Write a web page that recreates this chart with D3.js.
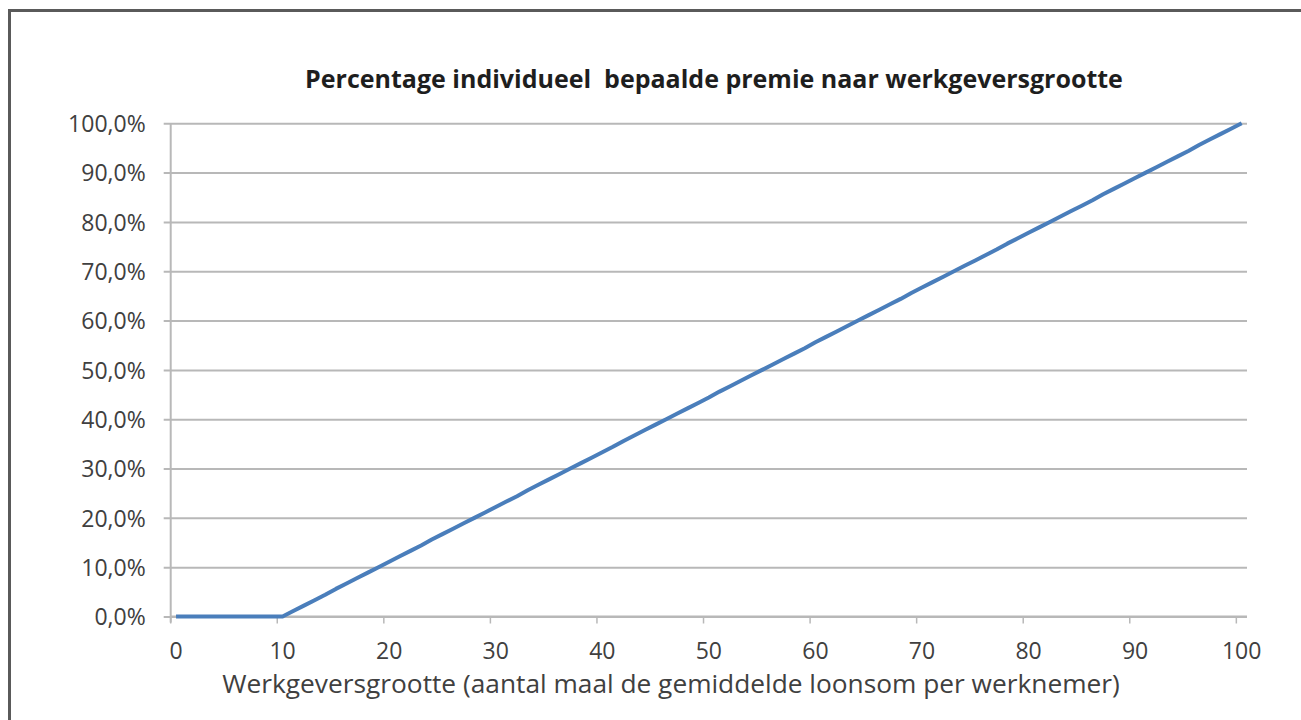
<!DOCTYPE html>
<html>
<head>
<meta charset="utf-8">
<script src="https://cdn.jsdelivr.net/npm/d3@7"></script>
<style>
  html, body { margin: 0; padding: 0; background: #ffffff; }
  svg { display: block; }
  text { font-family: "Open Sans", "Noto Sans", sans-serif; }
</style>
</head>
<body>
<svg id="chart" width="1301" height="720"></svg>
<script>
// ---- data ----
const chartTitle = "Percentage individueel  bepaalde premie naar werkgeversgrootte";
const xAxisTitle = "Werkgeversgrootte (aantal maal de gemiddelde loonsom per werknemer)";
const categories = d3.range(0, 101);
const premiePct = [
  0, 0, 0, 0, 0, 0, 0, 0, 0, 0, 0,
  1.1, 2.2, 3.3, 4.4, 5.6, 6.7, 7.8, 8.9, 10.0, 11.1,
  12.2, 13.3, 14.4, 15.6, 16.7, 17.8, 18.9, 20.0, 21.1, 22.2,
  23.3, 24.4, 25.6, 26.7, 27.8, 28.9, 30.0, 31.1, 32.2, 33.3,
  34.4, 35.6, 36.7, 37.8, 38.9, 40.0, 41.1, 42.2, 43.3, 44.4,
  45.6, 46.7, 47.8, 48.9, 50.0, 51.1, 52.2, 53.3, 54.4, 55.6,
  56.7, 57.8, 58.9, 60.0, 61.1, 62.2, 63.3, 64.4, 65.6, 66.7,
  67.8, 68.9, 70.0, 71.1, 72.2, 73.3, 74.4, 75.6, 76.7, 77.8,
  78.9, 80.0, 81.1, 82.2, 83.3, 84.4, 85.6, 86.7, 87.8, 88.9,
  90.0, 91.1, 92.2, 93.3, 94.4, 95.6, 96.7, 97.8, 98.9, 100.0
];
const xTickValues = [0, 10, 20, 30, 40, 50, 60, 70, 80, 90, 100];
const xTickLabels = ["0", "10", "20", "30", "40", "50", "60", "70", "80", "90", "100"];
const yTickValues = [0, 10, 20, 30, 40, 50, 60, 70, 80, 90, 100];
const yTickLabels = ["0,0%", "10,0%", "20,0%", "30,0%", "40,0%", "50,0%", "60,0%", "70,0%", "80,0%", "90,0%", "100,0%"];

// ---- layout ----
const svg = d3.select("#chart");
const plot = { left: 170.7, right: 1247, top: 123.3, bottom: 616.5 };
const gridColor = "#b8b8b8";
const textColor = "#404040";

// outer frame (only top/left edges visible)
svg.append("rect")
  .attr("x", 9.5).attr("y", 10.5)
  .attr("width", 1400).attr("height", 800)
  .attr("fill", "#ffffff")
  .attr("stroke", "#5a5a5a").attr("stroke-width", 3);

const x = d3.scaleBand().domain(categories).range([plot.left, plot.right]).paddingInner(0).paddingOuter(0);
const y = d3.scaleLinear().domain([0, 100]).range([plot.bottom, plot.top]);

// horizontal gridlines + y labels
const yAxis = d3.axisLeft(y)
  .tickValues(yTickValues)
  .tickSize(-(plot.right - plot.left))
  .tickPadding(18)
  .tickFormat((d, i) => yTickLabels[i]);
const gy = svg.append("g").attr("transform", `translate(${plot.left},0)`).call(yAxis);
gy.select(".domain").remove();
gy.selectAll(".tick line").attr("stroke", gridColor).attr("stroke-width", 2)
  .attr("x1", -7);
gy.selectAll(".tick text")
  .attr("fill", textColor).attr("font-size", 23).attr("x", -25).attr("dy", "0.36em");

// y axis line
svg.append("line")
  .attr("x1", plot.left).attr("x2", plot.left)
  .attr("y1", plot.top).attr("y2", plot.bottom + 6)
  .attr("stroke", gridColor).attr("stroke-width", 2);

// x axis line
svg.append("line")
  .attr("x1", plot.left).attr("x2", plot.right)
  .attr("y1", plot.bottom).attr("y2", plot.bottom)
  .attr("stroke", gridColor).attr("stroke-width", 2);

// x tick marks at category boundaries
svg.append("g").selectAll("line.xt")
  .data(xTickValues)
  .join("line")
  .attr("class", "xt")
  .attr("x1", d => x(d)).attr("x2", d => x(d))
  .attr("y1", plot.bottom).attr("y2", plot.bottom + 7)
  .attr("stroke", gridColor).attr("stroke-width", 1.5);

// x labels at category centers
svg.append("g").selectAll("text.xl")
  .data(xTickValues)
  .join("text")
  .attr("class", "xl")
  .attr("x", d => x(d) + x.bandwidth() / 2)
  .attr("y", 658.5)
  .attr("text-anchor", "middle")
  .attr("fill", textColor)
  .attr("font-size", 23)
  .text((d, i) => xTickLabels[i]);

// line
const line = d3.line()
  .x((d, i) => x(categories[i]) + x.bandwidth() / 2)
  .y(d => y(d));
svg.append("path")
  .datum(premiePct)
  .attr("d", line)
  .attr("fill", "none")
  .attr("stroke", "#4a7ebb")
  .attr("stroke-width", 4)
  .attr("stroke-linejoin", "round");

// fit helper
function fitWidth(sel, target) {
  const fs = parseFloat(sel.attr("font-size"));
  const w = sel.node().getComputedTextLength();
  if (w > 0) sel.attr("font-size", fs * target / w);
}

// title
const t = svg.append("text")
  .attr("x", 714).attr("y", 88)
  .attr("text-anchor", "middle")
  .attr("font-weight", "bold")
  .attr("font-size", 24)
  .attr("fill", "#1e1e1e")
  .style("white-space", "pre")
  .attr("xml:space", "preserve")
  .text(chartTitle);
fitWidth(t, 818);

// x axis title
const xt = svg.append("text")
  .attr("x", 671).attr("y", 693)
  .attr("text-anchor", "middle")
  .attr("font-size", 24)
  .attr("fill", textColor)
  .text(xAxisTitle);
fitWidth(xt, 898);
</script>
</body>
</html>
